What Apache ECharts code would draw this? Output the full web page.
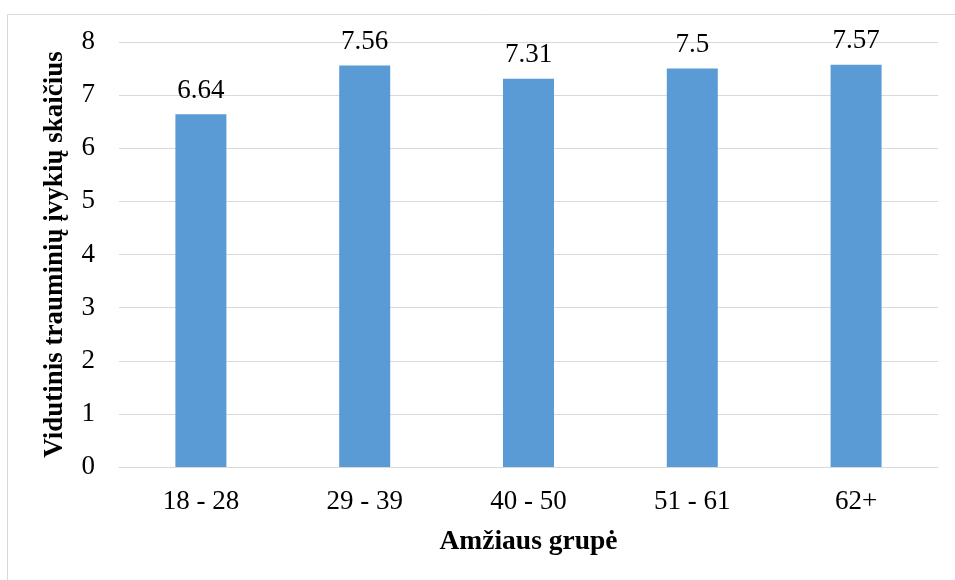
<!DOCTYPE html>
<html>
<head>
<meta charset="utf-8">
<script src="https://cdn.jsdelivr.net/npm/echarts@6/dist/echarts.min.js"></script>
<style>html,body{margin:0;padding:0;background:#fff;}#chart{width:955px;height:580px;}</style>
</head>
<body>
<div id="chart"></div>
<script>
const categories = ['18 - 28', '29 - 39', '40 - 50', '51 - 61', '62+'];
const values = [6.64, 7.56, 7.31, 7.5, 7.57];
const yTicks = { min: 0, max: 8, interval: 1 };
const xTitle = 'Amžiaus grupė';
const yTitle = 'Vidutinis trauminių įvykių skaičius';

const FONT = "'Liberation Serif', 'Times New Roman', serif";
const chart = echarts.init(document.getElementById('chart'), null, { renderer: 'canvas' });
chart.setOption({
  animation: false,
  backgroundColor: '#ffffff',
  graphic: [{
    type: 'rect',
    shape: { x: 7.5, y: 14.5, width: 1200, height: 1200 },
    style: { fill: 'none', stroke: '#d9d9d9', lineWidth: 1 },
    silent: true, z: -10
  }],
  grid: { left: 119, right: 17, top: 42, bottom: 113 },
  xAxis: {
    type: 'category',
    data: categories,
    name: xTitle,
    nameLocation: 'middle',
    nameGap: 61,
    nameTextStyle: { fontFamily: FONT, fontSize: 27.5, fontWeight: 'bold', color: '#000' },
    axisLine: { lineStyle: { color: '#d9d9d9', width: 1 } },
    axisTick: { show: false },
    axisLabel: { fontFamily: FONT, fontSize: 27, color: '#000', margin: 21 }
  },
  yAxis: {
    type: 'value',
    min: yTicks.min, max: yTicks.max, interval: yTicks.interval,
    name: yTitle,
    nameLocation: 'middle',
    nameGap: 50,
    nameTextStyle: { fontFamily: FONT, fontSize: 27, fontWeight: 'bold', color: '#000' },
    axisLine: { show: false },
    axisTick: { show: false },
    splitLine: { lineStyle: { color: '#d9d9d9', width: 1 } },
    axisLabel: { fontFamily: FONT, fontSize: 27, color: '#000', margin: 24 }
  },
  series: [{
    type: 'bar',
    data: values,
    barWidth: 51,
    itemStyle: { color: '#5b9bd5' },
    label: {
      show: true, position: 'top', distance: 10,
      fontFamily: FONT, fontSize: 27, color: '#000'
    }
  }]
});
</script>
</body>
</html>
